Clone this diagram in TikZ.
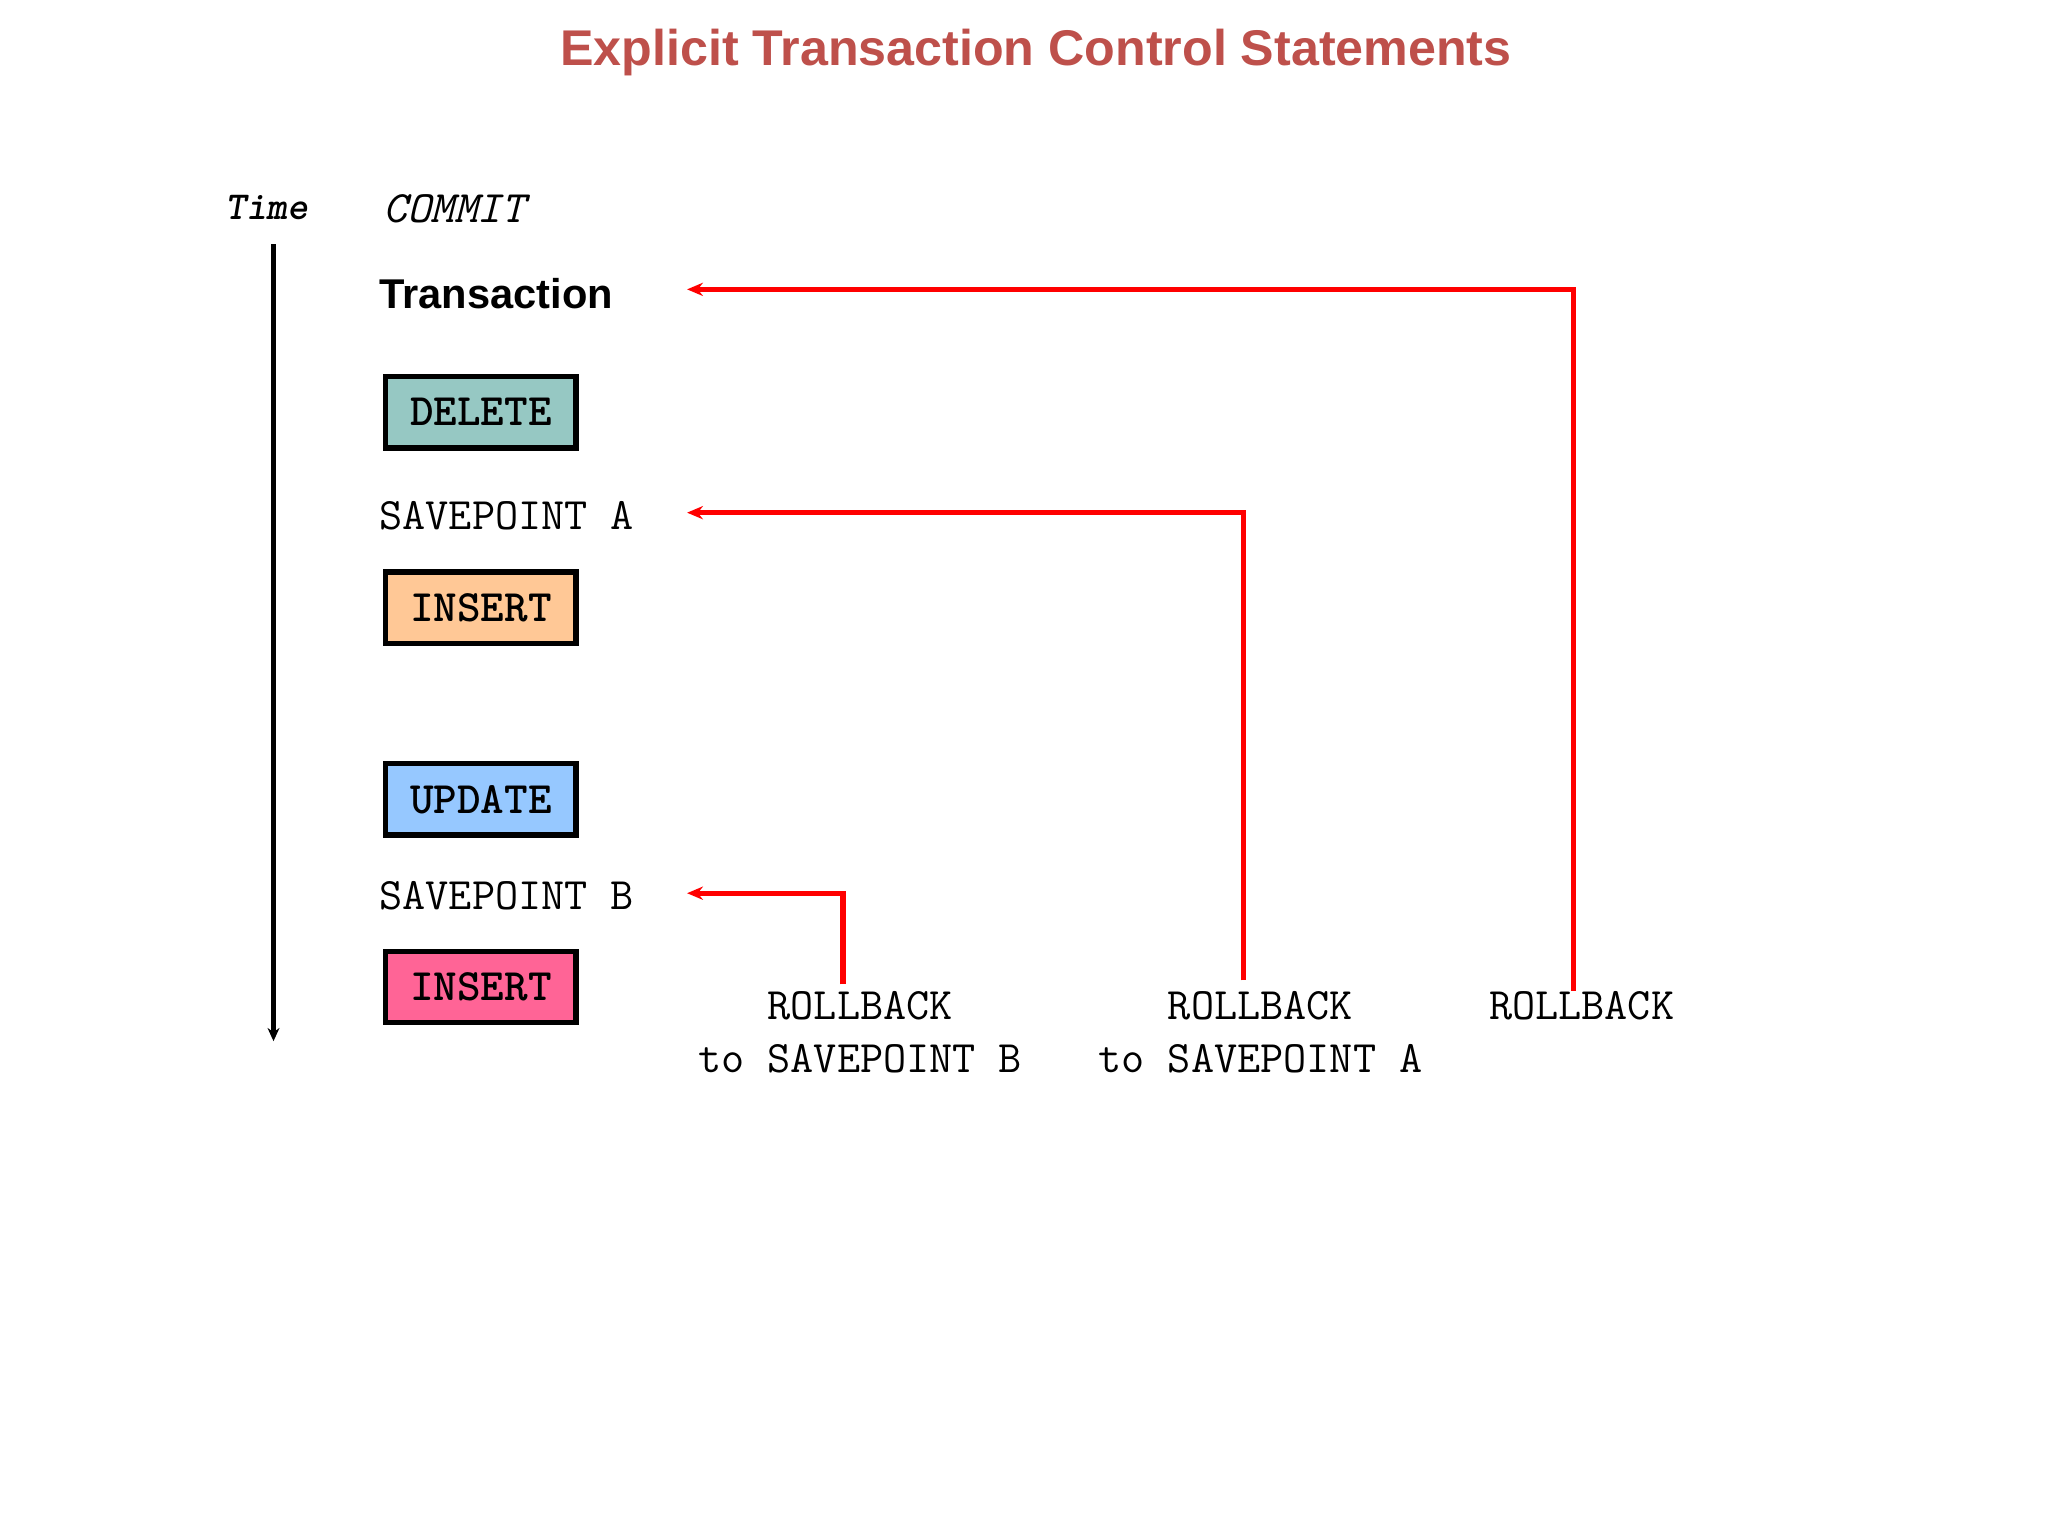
\documentclass[tikz,border=0pt]{standalone}
\usepackage{fontspec}
\setmainfont{Liberation Sans}
\usetikzlibrary{arrows.meta}
\definecolor{titlered}{RGB}{190,80,75}
\definecolor{delc}{RGB}{150,200,195}
\definecolor{insc}{RGB}{255,200,150}
\definecolor{updc}{RGB}{150,200,255}
\definecolor{ins2c}{RGB}{255,100,150}
\tikzset{
  stmt/.style={draw=black,line width=4pt,minimum width=144pt,minimum height=54pt,inner sep=0pt,font=\ttfamily\bfseries\fontsize{34}{34}\selectfont},
  mono/.style={font=\ttfamily\fontsize{34}{40}\selectfont,inner sep=0pt,align=center},
  rb/.style={draw=red,line width=4pt,-{Stealth[length=12pt,width=10pt]}}
}
\begin{document}
\begin{tikzpicture}[x=1pt,y=-1pt]
\useasboundingbox[fill=white] (0,0) rectangle (1550,1162.5);
\node[font=\bfseries\fontsize{38}{38}\selectfont,text=titlered] (title) at (784,40) {Explicit Transaction Control Statements};
\node[font=\ttfamily\bfseries\itshape\fontsize{30}{30}\selectfont] (time) at (202,157) {Time};
\node[font=\ttfamily\itshape\fontsize{34}{34}\selectfont,anchor=west,inner sep=0pt] (commit) at (290,158) {COMMIT};
\coordinate (t0) at (207,185);
\coordinate (t1) at (207,788);
\draw[line width=3.5pt,-{Stealth[length=10pt,width=9pt]}] (t0) -- (t1);
\node[font=\bfseries\fontsize{31.5}{31.5}\selectfont,anchor=west,inner sep=0pt] (trans) at (287,222) {Transaction};
\node[stmt,fill=delc] (del) at (364,312) {DELETE};
\node[mono,anchor=west] (spa) at (287,390) {SAVEPOINT A};
\node[stmt,fill=insc] (ins1) at (364,460) {INSERT};
\node[stmt,fill=updc] (upd) at (364,605) {UPDATE};
\node[mono,anchor=west] (spb) at (287,678) {SAVEPOINT B};
\node[stmt,fill=ins2c] (ins2) at (364,747) {INSERT};
\node[mono,anchor=north] (rbb) at (651,750) {ROLLBACK\\to SAVEPOINT B};
\node[mono,anchor=north] (rba) at (954,750) {ROLLBACK\\to SAVEPOINT A};
\node[mono,anchor=north] (rbt) at (1197,750) {ROLLBACK};
\coordinate (eb) at (520,676);
\coordinate (ea) at (520,388);
\coordinate (et) at (520,219);
\coordinate (sb) at (638,745);
\coordinate (sa) at (941,742);
\coordinate (st) at (1191,750);
\draw[rb] (sb) |- (eb);
\draw[rb] (sa) |- (ea);
\draw[rb] (st) |- (et);
\end{tikzpicture}
\end{document}
